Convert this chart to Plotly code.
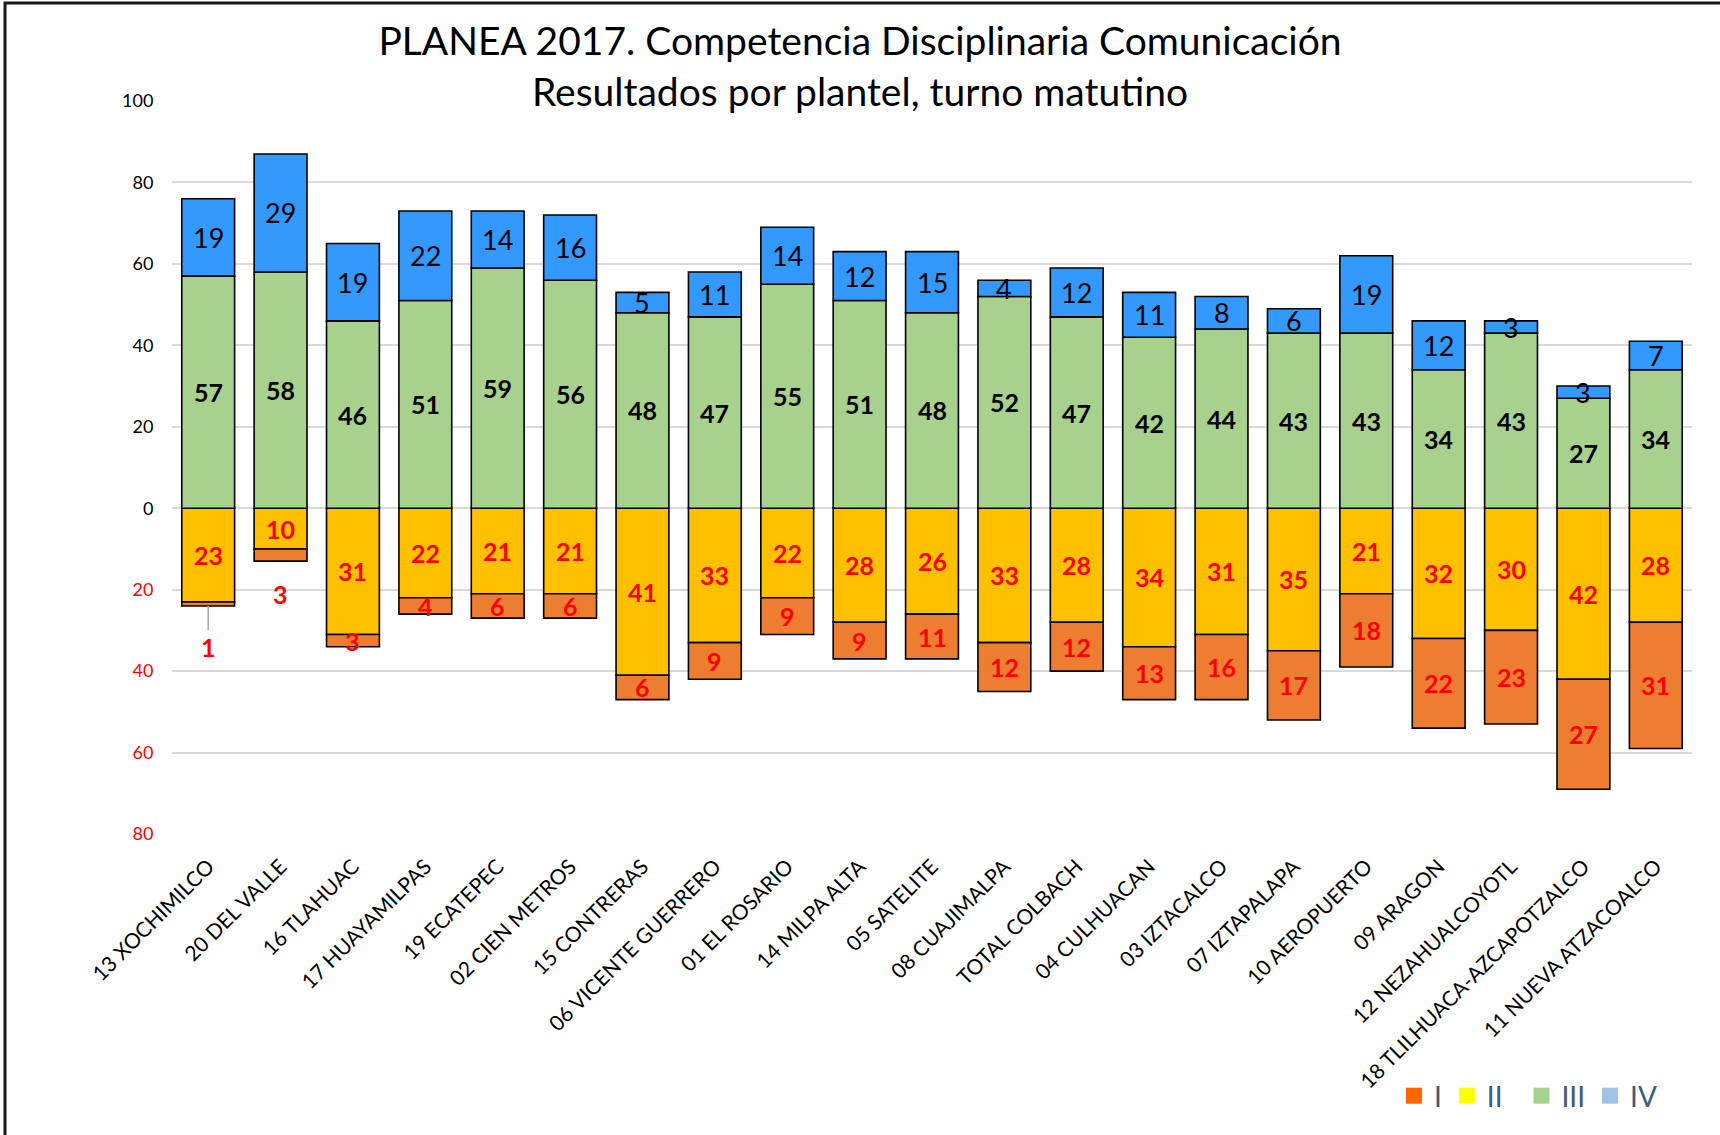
import plotly.graph_objects as go

CATEGORIES = [
    "13 XOCHIMILCO", "20 DEL VALLE", "16 TLAHUAC", "17 HUAYAMILPAS",
    "19 ECATEPEC", "02 CIEN METROS", "15 CONTRERAS", "06 VICENTE GUERRERO",
    "01 EL ROSARIO", "14 MILPA ALTA", "05 SATELITE", "08 CUAJIMALPA",
    "TOTAL COLBACH", "04 CULHUACAN", "03 IZTACALCO", "07 IZTAPALAPA",
    "10 AEROPUERTO", "09 ARAGON", "12 NEZAHUALCOYOTL",
    "18 TLILHUACA-AZCAPOTZALCO", "11 NUEVA ATZACOALCO",
]
LEVEL_IV = [19, 29, 19, 22, 14, 16, 5, 11, 14, 12, 15, 4, 12, 11, 8, 6, 19, 12, 3, 3, 7]
LEVEL_III = [57, 58, 46, 51, 59, 56, 48, 47, 55, 51, 48, 52, 47, 42, 44, 43, 43, 34, 43, 27, 34]
LEVEL_II = [23, 10, 31, 22, 21, 21, 41, 33, 22, 28, 26, 33, 28, 34, 31, 35, 21, 32, 30, 42, 28]
LEVEL_I = [1, 3, 3, 4, 6, 6, 6, 9, 9, 9, 11, 12, 12, 13, 16, 17, 18, 22, 23, 27, 31]

Y_TICKS = [100, 80, 60, 40, 20, 0, -20, -40, -60, -80]

BAR_COLORS = {"I": "#ED7D31", "II": "#FFC000", "III": "#A9D18E", "IV": "#3399FF"}
LEGEND_COLORS = {"I": "#FF6600", "II": "#FFFF00", "III": "#A9D18E", "IV": "#9DC3E6"}
RED = "#FF0000"
FONT = "Lato, 'Open Sans', sans-serif"

W, H = 1720, 1135
M_L, M_R, M_T, M_B = 172, 28, 101, 301


def px_to_paper(px, py):
    return (px - M_L) / (W - M_L - M_R), (H - M_B - py) / (H - M_T - M_B)


fig = go.Figure()

bar_style = dict(marker_line_color="black", marker_line_width=1.6, showlegend=False,
                 hoverinfo="skip")
fig.add_trace(go.Bar(x=CATEGORIES, y=[-v for v in LEVEL_II], name="II",
                     marker_color=BAR_COLORS["II"], **bar_style))
fig.add_trace(go.Bar(x=CATEGORIES, y=[-v for v in LEVEL_I], name="I",
                     marker_color=BAR_COLORS["I"], **bar_style))
fig.add_trace(go.Bar(x=CATEGORIES, y=LEVEL_III, name="III",
                     marker_color=BAR_COLORS["III"], **bar_style))
fig.add_trace(go.Bar(x=CATEGORIES, y=LEVEL_IV, name="IV",
                     marker_color=BAR_COLORS["IV"], **bar_style))

# legend entries (legend swatches use different colours than the bars)
legend_names = {"I": "I", "II": "II\u2002", "III": "III", "IV": "IV"}
for key in ["I", "II", "III", "IV"]:
    fig.add_trace(go.Scatter(
        x=[None], y=[None], mode="markers", name=legend_names[key],
        marker=dict(symbol="square", size=18, color=LEGEND_COLORS[key]),
    ))

# value labels at the middle of each segment
annotations = []
for i, cat in enumerate(CATEGORIES):
    iii, iv, ii, one = LEVEL_III[i], LEVEL_IV[i], LEVEL_II[i], LEVEL_I[i]
    annotations.append(dict(x=cat, y=iii / 2, text=str(iii), showarrow=False,
                            font=dict(family=FONT, size=25, color="black", weight="bold")))
    annotations.append(dict(x=cat, y=iii + iv / 2, text=str(iv), showarrow=False,
                            font=dict(family=FONT, size=27, color="black")))
    annotations.append(dict(x=cat, y=-ii / 2, text=str(ii), showarrow=False,
                            font=dict(family=FONT, size=25, color=RED, weight="bold")))
    lbl_font = dict(family=FONT, size=25, color=RED, weight="bold")
    if i == 0:
        annotations.append(dict(x=cat, y=-(ii + one), text=str(one), showarrow=True,
                                arrowhead=0, arrowcolor="#A6A6A6", arrowwidth=1.5,
                                axref="x", ayref="y", ax=cat, ay=-(ii + one) - 10,
                                font=lbl_font))
    elif i == 1:
        annotations.append(dict(x=cat, y=-(ii + one) - 8, text=str(one), showarrow=False,
                                font=lbl_font))
    else:
        annotations.append(dict(x=cat, y=-(ii + one / 2), text=str(one), showarrow=False,
                                font=lbl_font))

tick_text = [str(v) if v >= 0 else f'<span style="color:{RED}">{-v}</span>' for v in Y_TICKS]

x0, y0 = px_to_paper(5, 3)
x1, y1 = px_to_paper(1730, 1145)

fig.update_layout(
    width=W, height=H,
    margin=dict(l=M_L, r=M_R, t=M_T, b=M_B),
    paper_bgcolor="white", plot_bgcolor="white",
    barmode="relative", bargap=0.27,
    font=dict(family=FONT, color="black"),
    title=dict(
        text="PLANEA 2017. Competencia Disciplinaria Comunicación<br>Resultados por plantel, turno matutino",
        x=0.5, xref="container", xanchor="center",
        y=1 - 55 / H, yref="container", yanchor="middle",
        font=dict(family=FONT, size=39, color="black"),
    ),
    annotations=annotations,
    legend=dict(
        orientation="h", x=px_to_paper(1394, 0)[0], xanchor="left",
        y=px_to_paper(0, 1096)[1], yanchor="middle",
        font=dict(family=FONT, size=28, color="#3D5A80"),
        bgcolor="rgba(0,0,0,0)",
    ),
    shapes=[dict(type="rect", xref="paper", yref="paper", x0=x0, x1=x1, y0=y1, y1=y0,
                 line=dict(color="#1a1a1a", width=3), layer="above")],
)
fig.update_xaxes(
    tickangle=-45, tickfont=dict(family=FONT, size=21, color="black"),
    showline=False, showgrid=False,
    ticks="outside", ticklen=11, tickcolor="rgba(0,0,0,0)",
)
fig.update_yaxes(
    range=[-80, 100], tickvals=Y_TICKS, ticktext=tick_text,
    tickfont=dict(family=FONT, size=18, color="black"),
    showgrid=True, gridcolor="#D9D9D9", gridwidth=2,
    zeroline=True, zerolinecolor="#D9D9D9", zerolinewidth=2,
    showline=False, ticks="outside", ticklen=14, tickcolor="rgba(0,0,0,0)",
)

fig.write_html("out.html", config={"displayModeBar": False},
               post_script="document.body.style.margin = '0px';")
